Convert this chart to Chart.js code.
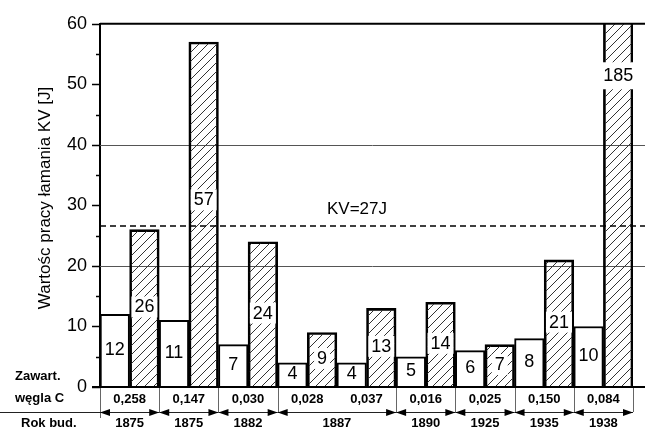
<!DOCTYPE html>
<html lang="pl">
<head>
<meta charset="UTF-8">
<title>Wartość pracy łamania KV</title>
<script src="https://cdn.jsdelivr.net/npm/chart.js"></script>
<style>
  html, body { margin: 0; padding: 0; background: #fff; }
  #chartContainer { width: 645px; height: 430px; }
</style>
</head>
<body>
<div id="chartContainer"><canvas id="myChart" width="645" height="430"></canvas></div>
<script>
// data
const carbon = ['0,258', '0,147', '0,030', '0,028', '0,037', '0,016', '0,025', '0,150', '0,084'];
const plainValues = [12, 11, 7, 4, 4, 5, 6, 8, 10];
const hatchedValues = [26, 57, 24, 9, 13, 14, 7, 21, 185];
const years = ['1875', '1875', '1882', '1887', '1890', '1925', '1935', '1938'];
const yearSpans = [1, 1, 1, 2, 1, 1, 1, 1];
const kvLine = 26.6;
const kvText = 'KV=27J';
const yTicks = [0, 10, 20, 30, 40, 50, 60];
const yTitle = 'Wartośc pracy łamania KV [J]';

const FONT = '"Liberation Sans", Arial, sans-serif';

// diagonal hatch pattern
function makeHatch() {
    const s = 9;
    const c = document.createElement('canvas');
    c.width = s; c.height = s;
    const g = c.getContext('2d');
    g.strokeStyle = '#333';
    g.lineWidth = 1;
    g.beginPath();
    g.moveTo(0, s); g.lineTo(s, 0);
    g.moveTo(-2, 2); g.lineTo(2, -2);
    g.moveTo(s - 2, s + 2); g.lineTo(s + 2, s - 2);
    g.stroke();
    return g.createPattern(c, 'repeat');
}

function hline(ctx, x1, x2, y) {
    ctx.beginPath(); ctx.moveTo(x1, y); ctx.lineTo(x2, y); ctx.stroke();
}
function vline(ctx, x, y1, y2) {
    ctx.beginPath(); ctx.moveTo(x, y1); ctx.lineTo(x, y2); ctx.stroke();
}

// where the number sits inside a bar (in axis units)
function labelAt(v) {
    if (v > 60) return 51.5;
    if (v > 40) return 31;
    return v / 2 + 0.3;
}

const decorations = {
    id: 'decorations',
    beforeDatasetsDraw(chart) {
        const { ctx, chartArea: a, scales: { y } } = chart;
        ctx.save();
        ctx.strokeStyle = '#555';
        ctx.lineWidth = 1;
        [20, 40].forEach(v => hline(ctx, a.left, chart.width, Math.round(y.getPixelForValue(v)) + 0.5));
        ctx.restore();
    },
    afterDatasetsDraw(chart) {
        const { ctx, chartArea: a, scales: { y } } = chart;
        ctx.save();

        // numbers in bars
        ctx.font = '18px ' + FONT;
        ctx.textAlign = 'center';
        ctx.textBaseline = 'middle';
        chart.data.datasets.forEach((ds, di) => {
            const meta = chart.getDatasetMeta(di);
            meta.data.forEach((bar, i) => {
                const v = ds.data[i];
                const py = y.getPixelForValue(labelAt(v));
                const txt = String(v);
                const tw = ctx.measureText(txt).width;
                ctx.fillStyle = '#fff';
                if (v > y.max) {
                    ctx.fillRect(bar.x - bar.width / 2 - 2, py - 13, bar.width + 4, 27);
                } else if (di === 1) {
                    ctx.fillRect(bar.x - tw / 2 - 3, py - 10, tw + 6, 21);
                }
                ctx.fillStyle = '#000';
                ctx.fillText(txt, bar.x, py + 1);
            });
        });

        // frame lines at 60 and 0
        ctx.strokeStyle = '#000';
        ctx.lineWidth = 2;
        hline(ctx, a.left, chart.width, y.getPixelForValue(60));
        hline(ctx, a.left - 8, chart.width, y.getPixelForValue(0));

        // ticks on the left axis
        ctx.lineWidth = 1.5;
        for (let v = 0; v <= 60; v += 5) {
            const len = v % 10 === 0 ? 8 : 4;
            hline(ctx, a.left - len, a.left, Math.round(y.getPixelForValue(v)) + 0.5);
        }

        // KV line
        ctx.lineWidth = 1.3;
        ctx.setLineDash([6, 4]);
        hline(ctx, a.left, chart.width, y.getPixelForValue(kvLine));
        ctx.setLineDash([]);
        ctx.font = '17px ' + FONT;
        ctx.textAlign = 'left';
        ctx.fillStyle = '#000';
        ctx.fillText(kvText, 327, y.getPixelForValue(kvLine) - 17);

        ctx.restore();
    },
    afterDraw(chart) {
        const { ctx, chartArea: a } = chart;
        const gw = (a.right - a.left) / carbon.length;
        const top = a.bottom + 1;
        const arrowY = top + 24;
        ctx.save();

        // axis title
        ctx.save();
        ctx.translate(45, 198);
        ctx.rotate(-Math.PI / 2);
        ctx.font = '17px ' + FONT;
        ctx.fillStyle = '#000';
        ctx.textAlign = 'center';
        ctx.textBaseline = 'middle';
        ctx.fillText(yTitle, 0, 0);
        ctx.restore();

        // separators at year boundaries
        const bounds = [0];
        yearSpans.forEach(s => bounds.push(bounds[bounds.length - 1] + s));
        ctx.strokeStyle = '#666';
        ctx.lineWidth = 1;
        bounds.forEach((b, i) => {
            const x = Math.round(a.left + b * gw) + 0.5;
            const end = (i === 0) ? arrowY + 6 : arrowY;
            vline(ctx, x, top, end);
        });

        // carbon values
        ctx.fillStyle = '#000';
        ctx.font = 'bold 13px ' + FONT;
        ctx.textAlign = 'center';
        ctx.textBaseline = 'middle';
        carbon.forEach((c, i) => ctx.fillText(c, a.left + (i + 0.5) * gw, top + 11));

        // arrow line
        ctx.strokeStyle = '#222';
        hline(ctx, 0, a.left, arrowY + 0.5);
        for (let k = 0; k < years.length; k++) {
            const x1 = a.left + bounds[k] * gw;
            const x2 = a.left + bounds[k + 1] * gw;
            hline(ctx, x1, x2, arrowY + 0.5);
            ctx.beginPath();
            ctx.moveTo(x1, arrowY + 0.5); ctx.lineTo(x1 + 10, arrowY - 3); ctx.lineTo(x1 + 10, arrowY + 4); ctx.closePath();
            ctx.moveTo(x2, arrowY + 0.5); ctx.lineTo(x2 - 10, arrowY - 3); ctx.lineTo(x2 - 10, arrowY + 4); ctx.closePath();
            ctx.fill();
            ctx.fillText(years[k], (x1 + x2) / 2, arrowY + 11);
        }

        // row captions
        ctx.textAlign = 'left';
        ctx.fillText('Zawart.', 15, top - 12);
        ctx.fillText('węgla C', 15, top + 10);
        ctx.fillText('Rok bud.', 21, arrowY + 11);
        ctx.restore();
    }
};

const ctx = document.getElementById('myChart').getContext('2d');
const hatch = makeHatch();

new Chart(ctx, {
    type: 'bar',
    data: {
        labels: carbon,
        datasets: [{
            data: plainValues,
            backgroundColor: '#fff',
            borderColor: '#000',
            borderWidth: 2,
            clip: 0
        }, {
            data: hatchedValues,
            backgroundColor: hatch,
            borderColor: '#000',
            borderWidth: 2,
            clip: 0
        }]
    },
    options: {
        responsive: false,
        animation: false,
        layout: { padding: { left: 0, right: 12, top: 20, bottom: 43 } },
        datasets: { bar: { categoryPercentage: 1, barPercentage: 1 } },
        plugins: {
            legend: { display: false },
            tooltip: { enabled: false }
        },
        scales: {
            x: { display: false },
            y: {
                min: 0,
                max: 60,
                afterFit(scale) { scale.width = 100; },
                afterBuildTicks(scale) { scale.ticks = yTicks.map(v => ({ value: v })); },
                border: { display: true, color: '#000', width: 2 },
                grid: { drawOnChartArea: false, drawTicks: false },
                ticks: {
                    padding: 13,
                    color: '#000',
                    font: { family: FONT, size: 18 }
                },
                title: { display: false }
            }
        }
    },
    plugins: [decorations]
});
</script>
</body>
</html>
